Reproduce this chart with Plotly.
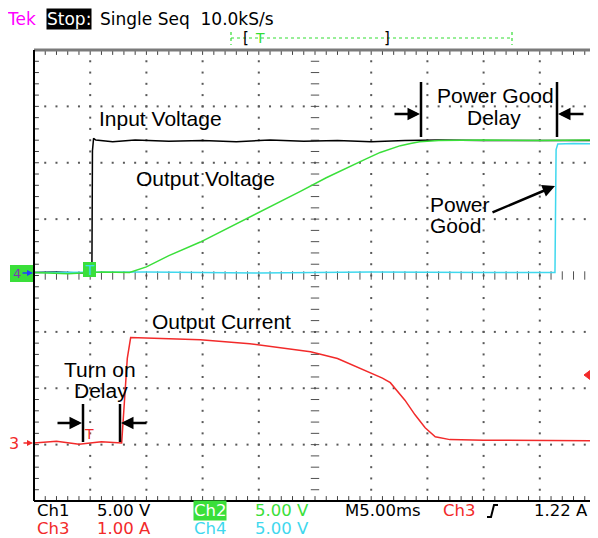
import numpy as np
import plotly.graph_objects as go

# ---------------- data (read from the screen capture) ----------------
# time in ms (5 ms/div, 10 divisions)
ch1_t = [0, 2, 4, 5.15, 5.2, 5.3, 5.5, 7, 9, 12, 15, 18, 21, 24, 27, 30, 33, 36, 40, 44, 48, 50]
ch1_v = [0, 0.05, -0.05, 0, 10.8, 11.9, 11.75, 11.6, 11.75, 11.65, 11.7, 11.6, 11.75, 11.65, 11.7, 11.6, 11.7, 11.75, 11.7, 11.7, 11.75, 11.7]  # Input Voltage (V)

ch2_t = [0, 3, 6, 8.5, 10, 12, 14.8, 17, 19.2, 21.5, 23.7, 26, 28.1, 29.5, 30.8, 31.8, 32.6, 33.5, 34.3, 36, 40, 45, 50]
ch2_v = [0, -0.1, 0.05, 0, 0.5, 1.5, 2.7, 3.8, 4.9, 6.1, 7.2, 8.4, 9.35, 10.05, 10.65, 11.0, 11.25, 11.45, 11.6, 11.7, 11.75, 11.7, 11.75]  # Output Voltage (V)

ch4_t = [0, 10, 20, 30, 40, 46.35, 46.45, 46.6, 48, 50]
ch4_v = [0, 0.05, -0.05, 0.05, 0, 0, 10.9, 11.4, 11.45, 11.4]  # Power Good (V)

ch3_t = [0, 2, 4, 6, 7.8, 8.0, 8.3, 8.6, 10, 14.8, 19.2, 24.6, 27, 29, 31, 31.7, 33, 33.9, 34.8, 35.7, 37, 40, 45, 50]
ch3_i = [0, 0.03, -0.02, 0.02, 0, 0.6, 1.5, 1.87, 1.86, 1.83, 1.76, 1.62, 1.5, 1.33, 1.15, 1.07, 0.76, 0.5, 0.27, 0.11, 0.06, 0.05, 0.05, 0.04]  # Output Current (A)

CH1_SCALE, CH2_SCALE, CH4_SCALE = 5.0, 5.0, 5.0   # V/div
CH3_SCALE = 1.0                                     # A/div
TIME_DIV = 5.0                                      # ms/div
TRIG_LEVEL = 1.22                                   # A

# ---------------- geometry helpers ----------------
X0, X1, YT, YB = 34, 596, 50, 501
W, H = 598, 538
OFF = 8   # default page body margin
NXDIV, NYDIV = 10, 8
XMAX = NXDIV * TIME_DIV


def X(px):
    return (px - X0) / (X1 - X0) * XMAX


def Y(py):
    return (YB - py) / (YB - YT) * NYDIV


def PX(px):
    return (px - X0) / (X1 - X0)


def PY(py):
    return (YB - py) / (YB - YT)


GND124 = Y(272.5)
GND3 = Y(443)

fig = go.Figure()

# ---------------- graticule ----------------
dot = dict(color="#585858", size=2, symbol="square")
gx, gy = [], []
for i in range(1, NXDIV):
    if i == 5:
        continue
    for k in np.arange(0.2, NYDIV, 0.2):
        gx.append(i * TIME_DIV); gy.append(k)
for j in range(1, NYDIV):
    if j == 4:
        continue
    for k in np.arange(0.2, NXDIV, 0.2):
        gx.append(k * TIME_DIV); gy.append(j)
fig.add_trace(go.Scatter(x=gx, y=gy, mode="markers", marker=dot, hoverinfo="skip"))

# center lines with small ticks
cy = list(np.arange(0.2, NYDIV, 0.2))
cx = [5 * TIME_DIV] * len(cy)
fig.add_trace(go.Scatter(x=cx, y=cy, mode="markers",
                         marker=dict(symbol="line-ew", size=6, line=dict(color="#505050", width=1)),
                         hoverinfo="skip"))
hx = list(np.arange(0.2, NXDIV, 0.2) * TIME_DIV)
hy = [4] * len(hx)
fig.add_trace(go.Scatter(x=hx, y=hy, mode="markers",
                         marker=dict(symbol="line-ns", size=6, line=dict(color="#505050", width=1)),
                         hoverinfo="skip"))
# border ticks
bx = list(np.arange(0.2, NXDIV, 0.2) * TIME_DIV)
fig.add_trace(go.Scatter(x=bx + bx, y=[NYDIV] * len(bx) + [0] * len(bx), mode="markers",
                         marker=dict(symbol="line-ns", size=7, line=dict(color="#404040", width=1)),
                         hoverinfo="skip"))
by = list(np.arange(0.2, NYDIV, 0.2))
fig.add_trace(go.Scatter(x=[0] * len(by) + [XMAX] * len(by), y=by + by, mode="markers",
                         marker=dict(symbol="line-ew", size=7, line=dict(color="#404040", width=1)),
                         hoverinfo="skip"))

# ---------------- waveforms ----------------
fig.add_trace(go.Scatter(x=ch1_t, y=[GND124 + v / CH1_SCALE for v in ch1_v], mode="lines",
                         line=dict(color="#000000", width=1.5), name="Ch1"))
fig.add_trace(go.Scatter(x=ch3_t, y=[GND3 + v / CH3_SCALE for v in ch3_i], mode="lines",
                         line=dict(color="#f22a2a", width=1.5), name="Ch3"))
fig.add_trace(go.Scatter(x=ch4_t, y=[GND124 + v / CH4_SCALE for v in ch4_v], mode="lines",
                         line=dict(color="#3fd8ee", width=1.5), name="Ch4"))
fig.add_trace(go.Scatter(x=ch2_t, y=[GND124 + v / CH2_SCALE for v in ch2_v], mode="lines",
                         line=dict(color="#3adf3a", width=1.5), name="Ch2"))

shapes = []
# frame
shapes.append(dict(type="line", xref="paper", yref="paper", x0=0, x1=1, y0=1, y1=1,
                   line=dict(color="#7a7a7a", width=3)))
shapes.append(dict(type="line", xref="paper", yref="paper", x0=0, x1=1, y0=0, y1=0,
                   line=dict(color="#000", width=2)))
shapes.append(dict(type="line", xref="paper", yref="paper", x0=0, x1=0, y0=0, y1=1,
                   line=dict(color="#000", width=2)))
shapes.append(dict(type="line", xref="paper", yref="paper", x0=1, x1=1, y0=0, y1=1,
                   line=dict(color="#000", width=2)))

# delay marker bars
for px, py0, py1 in [(421, 82, 137), (557, 82, 137), (83, 404, 442), (120, 404, 442)]:
    shapes.append(dict(type="line", xref="x", yref="y", x0=X(px), x1=X(px), y0=Y(py0), y1=Y(py1),
                       line=dict(color="#000", width=2.5)))

# left channel markers
shapes.append(dict(type="rect", xref="paper", yref="paper", x0=PX(10), x1=PX(33), y0=PY(282), y1=PY(265),
                   fillcolor="#3adf3a", line=dict(width=0)))
shapes.append(dict(type="rect", xref="paper", yref="paper", x0=PX(83), x1=PX(96), y0=PY(277), y1=PY(262),
                   fillcolor="#3adf3a", line=dict(width=0)))
# top record bar
shapes.append(dict(type="line", xref="paper", yref="paper", x0=PX(231), x1=PX(512), y0=PY(38), y1=PY(38),
                   line=dict(color="#33dd33", width=1.2, dash="dot")))
for px in (231, 512):
    shapes.append(dict(type="line", xref="paper", yref="paper", x0=PX(px), x1=PX(px), y0=PY(32), y1=PY(45),
                       line=dict(color="#33dd33", width=1.2, dash="dot")))
# trigger slope symbol
shapes.append(dict(type="path", xref="paper", yref="paper",
                   path=f"M {PX(487)},{PY(517)} L {PX(491)},{PY(517)} L {PX(494)},{PY(505)} L {PX(498)},{PY(505)}",
                   line=dict(color="#000", width=2)))
# right-hand trigger level marker
shapes.append(dict(type="path", xref="paper", yref="paper",
                   path=f"M {PX(584)},{PY(375)} L {PX(592)},{PY(369)} L {PX(592)},{PY(381)} Z",
                   fillcolor="#f22a2a", line=dict(color="#f22a2a", width=1)))
shapes.append(dict(type="line", xref="paper", yref="paper", x0=PX(590), x1=PX(595), y0=PY(375), y1=PY(375),
                   line=dict(color="#f22a2a", width=3)))

ann = []


def txt(s, px, py, color="#000", size=21, family="Liberation Sans, Arial, sans-serif",
        xanchor="left", bg=None):
    d = dict(text=s, showarrow=False, xanchor=xanchor, yanchor="middle",
             font=dict(color=color, size=size, family=family), borderpad=0,
             xref="paper", yref="paper", x=PX(px), y=PY(py))
    if bg:
        d.update(bgcolor=bg)
    return d


def arrow2(tx, ty, hx, hy, color="#000", width=2.5, size=1.0):
    return dict(xref="paper", yref="paper", x=PX(hx), y=PY(hy), ax=tx - hx, ay=ty - hy,
                text="", showarrow=True, arrowhead=2, arrowsize=size,
                arrowwidth=width, arrowcolor=color, standoff=0)


# annotation labels
ann += [
    txt("Input Voltage", 98, 119),
    txt("Output Voltage", 135, 178),
    txt("Power Good", 495, 95.5, xanchor="center"),
    txt("Delay", 494, 117, xanchor="center"),
    txt("Power", 429, 204),
    txt("Good", 429, 225),
    txt("Output Current", 151, 322),
    txt("Turn on", 63, 369),
    txt("Delay", 73, 390),
]
ann += [
    arrow2(393, 114, 420, 114),
    arrow2(585, 114, 558, 114),
    arrow2(491, 213, 555, 186),
    arrow2(56, 423, 82, 423),
    arrow2(148, 423, 121, 423),
]

mono = "DejaVu Sans, sans-serif"
FS = 16.5
# header
ann += [
    txt("Tek", 6, 19, color="#ff00ff", size=17, family=mono),
    txt("Stop:", 46, 19, color="#ffffff", size=17, family=mono, bg="#000000"),
    txt("Single Seq  10.0kS/s", 99, 19, size=17, family=mono),
    txt("[", 242, 38, size=15, family=mono),
    txt("T", 254, 38, color="#33dd33", size=14, family=mono),
    txt("]", 383, 38, size=15, family=mono),
]
# footer
R1, R2 = 510, 528.5
ann += [
    txt("Ch1", 36, R1, size=FS, family=mono),
    txt("5.00 V", 96, R1, size=FS, family=mono),
    txt("Ch2", 193, R1, color="#ffffff", size=FS, family=mono, bg="#3adf3a"),
    txt("5.00 V", 254, R1, color="#3adf3a", size=FS, family=mono),
    txt("M5.00ms", 344, R1, size=FS, family=mono),
    txt("Ch3", 442, R1, color="#f22a2a", size=FS, family=mono),
    txt("1.22 A", 533, R1, size=FS, family=mono),
    txt("Ch3", 36, R2, color="#f22a2a", size=FS, family=mono),
    txt("1.00 A", 96, R2, color="#f22a2a", size=FS, family=mono),
    txt("Ch4", 193, R2, color="#3fd8ee", size=FS, family=mono),
    txt("5.00 V", 254, R2, color="#3fd8ee", size=FS, family=mono),
]
# channel / trigger markers
ann += [
    txt("3", 8, 443, color="#f22a2a", size=16, family=mono),
    arrow2(22, 443, 33, 443, color="#f22a2a", width=1.5, size=0.8),
    txt("4", 12, 273, color="#7a3ab0", size=13, family=mono),
    arrow2(21, 273, 33, 273, color="#2040ff", width=1.5, size=0.8),
    txt("T", 89.5, 270, color="#3fd8ee", size=14, family=mono, xanchor="center"),
    txt("T", 89, 434, color="#f22a2a", size=14, family=mono, xanchor="center"),
]

fig.update_layout(
    width=W - OFF, height=H - OFF,
    margin=dict(l=X0 - OFF, r=W - X1, t=YT - OFF, b=H - YB, pad=0),
    paper_bgcolor="#ffffff", plot_bgcolor="#ffffff",
    showlegend=False,
    xaxis=dict(range=[0, XMAX], showgrid=False, zeroline=False, showticklabels=False,
               showline=False, fixedrange=True),
    yaxis=dict(range=[0, NYDIV], showgrid=False, zeroline=False, showticklabels=False,
               showline=False, fixedrange=True),
    shapes=shapes,
    annotations=ann,
)

fig.write_html("out.html")
